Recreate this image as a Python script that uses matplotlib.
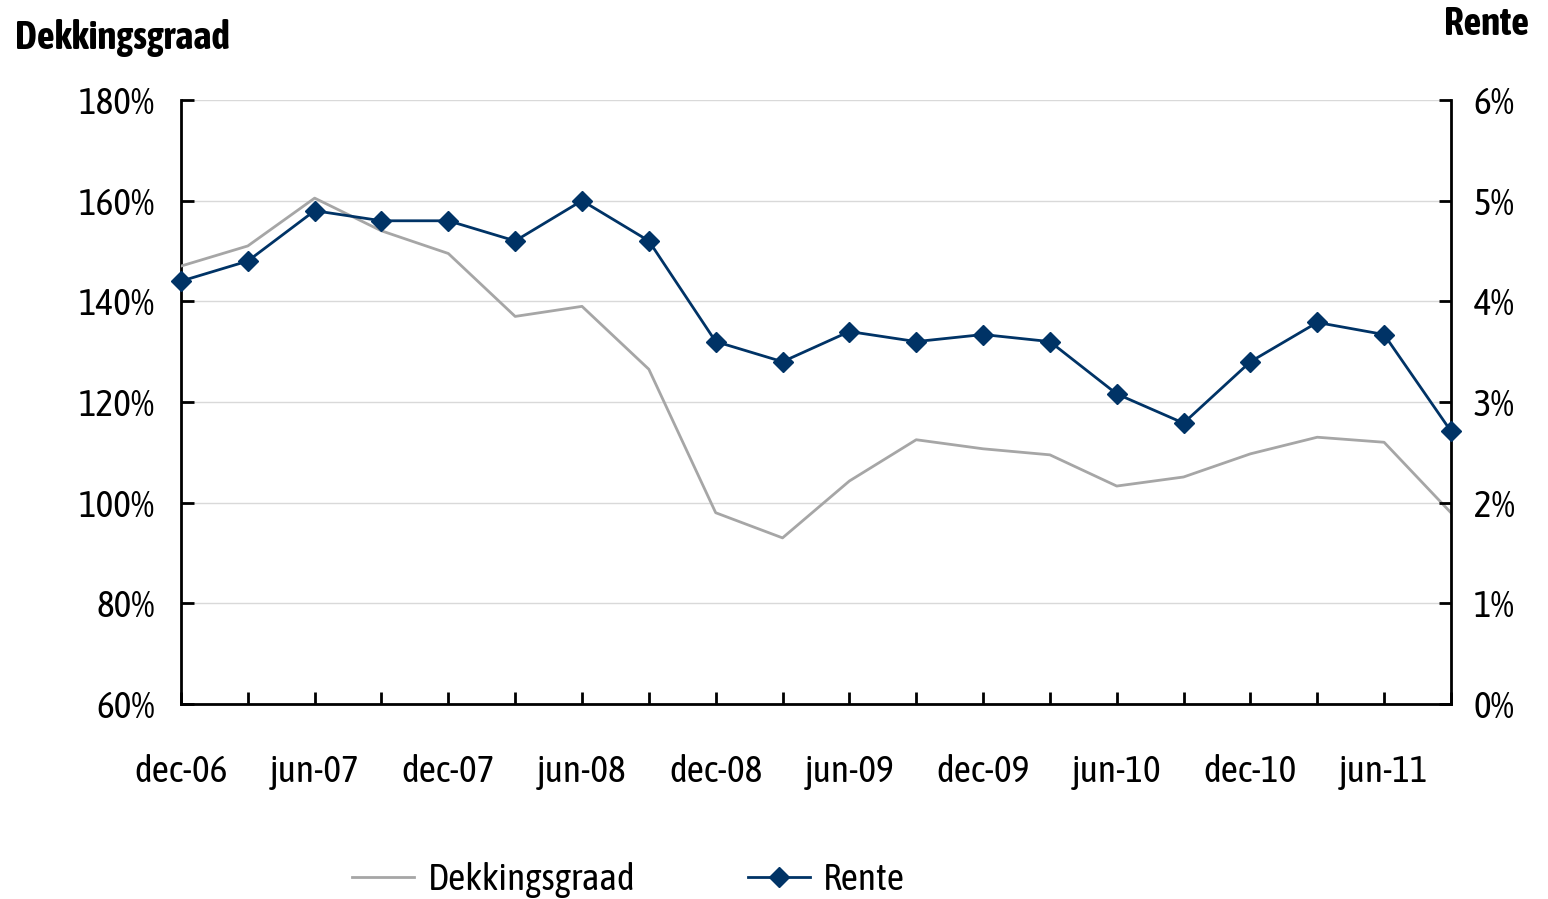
import matplotlib
matplotlib.use("Agg")
import matplotlib.pyplot as plt
from matplotlib.ticker import FuncFormatter

plt.rcParams['font.family'] = ['Asap Condensed', 'PT Sans Narrow', 'Liberation Sans Narrow', 'DejaVu Sans']

quarters = ['dec-06', 'mrt-07', 'jun-07', 'sep-07', 'dec-07', 'mrt-08', 'jun-08', 'sep-08',
            'dec-08', 'mrt-09', 'jun-09', 'sep-09', 'dec-09', 'mrt-10', 'jun-10', 'sep-10',
            'dec-10', 'mrt-11', 'jun-11', 'sep-11']
dekkingsgraad = [147, 151, 160.5, 154, 149.5, 137, 139, 126.5, 98, 93, 104.3, 112.5,
                 110.7, 109.5, 103.3, 105.1, 109.7, 113, 112, 98]
rente = [4.2, 4.4, 4.9, 4.8, 4.8, 4.6, 5.0, 4.6, 3.6, 3.4, 3.7, 3.6,
         3.67, 3.6, 3.08, 2.79, 3.4, 3.79, 3.67, 2.71]

x = list(range(len(quarters)))

fig = plt.figure(figsize=(15.48, 8.99), dpi=100)
ax = fig.add_axes([0.1169, 0.2169, 0.8204, 0.6719])
ax2 = ax.twinx()

gray = '#a6a6a6'
navy = '#003366'

l1, = ax.plot(x, dekkingsgraad, color=gray, lw=2, label='Dekkingsgraad', zorder=3)
l2, = ax2.plot(x, rente, color=navy, lw=2, marker='D', markersize=10,
               label='Rente', zorder=4, clip_on=False)

ax.set_ylim(60, 180)
ax.set_yticks(range(60, 181, 20))
ax.yaxis.set_major_formatter(FuncFormatter(lambda v, p: '%d%%' % v))
ax2.set_ylim(0, 6)
ax2.set_yticks(range(0, 7))
ax2.yaxis.set_major_formatter(FuncFormatter(lambda v, p: '%d%%' % v))

ax.set_xlim(0, len(quarters) - 1)
ax.set_xticks(x)
ax.set_xticklabels([q if i % 2 == 0 else '' for i, q in enumerate(quarters)])

ax.grid(axis='y', color='#d9d9d9', lw=1)
ax.set_axisbelow(True)

for a in (ax, ax2):
    a.spines['top'].set_visible(False)
    for s in a.spines.values():
        s.set_linewidth(2)
ax.spines['right'].set_visible(False)
ax2.spines['left'].set_visible(False)
ax2.spines['bottom'].set_visible(False)

ax.tick_params(axis='y', direction='in', length=9, width=2, labelsize=27, pad=19)
ax.tick_params(axis='x', direction='in', length=9, width=2, labelsize=27, pad=36)
ax2.tick_params(axis='y', direction='in', length=9, width=2, labelsize=27, pad=16.5)

fig.text(0.010, 0.958, 'Dekkingsgraad', fontsize=28, fontweight='bold', va='center', ha='left')
fig.text(0.988, 0.973, 'Rente', fontsize=28, fontweight='bold', va='center', ha='right')

fig.legend([l1, l2], ['Dekkingsgraad', 'Rente'], loc='center', bbox_to_anchor=(0.406, 0.021),
           ncol=2, frameon=False, fontsize=27, handlelength=1.65, columnspacing=3.0,
           handletextpad=0.35)

fig.savefig('out.png', dpi=100)
